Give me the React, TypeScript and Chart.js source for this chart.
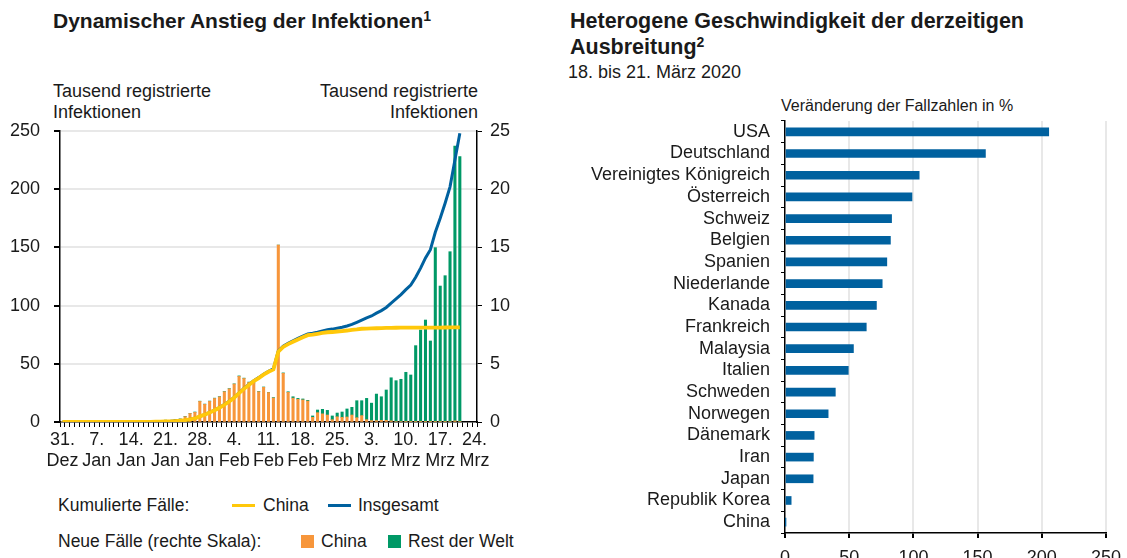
import React, { useEffect, useRef } from "react";
import { Chart, registerables } from "chart.js";
Chart.register(...registerables);

const FONT = "'Liberation Sans', Arial, sans-serif";
const TEXT = "#1a1a1a";
const YELLOW = "#FFC80A";
const BLUE = "#00619F";
const ORANGE = "#F7963B";
const GREEN = "#009966";
const GRID = "#e8e8e8";

// Days 31 Dez 2019 .. 24 Mrz 2020
const monthSpans: [string, number, number][] = [["Dez", 31, 31], ["Jan", 1, 31], ["Feb", 1, 29], ["Mrz", 1, 24]];
const dayLabels: string[] = [];
monthSpans.forEach(([m, a, b]) => { for (let d = a; d <= b; d++) dayLabels.push(d + ". " + m); });

const weekTickLabels: string[][] = [
  ["31.", "Dez"], ["7.", "Jan"], ["14.", "Jan"], ["21.", "Jan"], ["28.", "Jan"], ["4.", "Feb"], ["11.", "Feb"],
  ["18.", "Feb"], ["25.", "Feb"], ["3.", "Mrz"], ["10.", "Mrz"], ["17.", "Mrz"], ["24.", "Mrz"],
];

// New cases, thousands (right scale)
const chinaNew = [
  0.03, 0, 0, 0.02, 0, 0.02, 0, 0, 0, 0,
  0, 0, 0, 0, 0, 0, 0, 0, 0.01, 0.06,
  0.08, 0.15, 0.13, 0.2, 0.25, 0.46, 0.73, 0.83, 1.77, 1.52,
  1.77, 2.02, 2.16, 2.6, 2.85, 3.26, 3.92, 3.74, 3.4, 3.35,
  2.6, 2.98, 2.53, 2.06, 15.2, 4.18, 2.55, 2.05, 1.95, 1.9,
  1.8, 0.4, 0.8, 0.7, 0.6, 0.2, 0.45, 0.4, 0.43, 0.6,
  0.37, 0.55, 0.2, 0.12, 0.12, 0.14, 0.14, 0.1, 0.04, 0.04,
  0.02, 0.02, 0.02, 0.01, 0.02, 0.02, 0.02, 0.03, 0.02, 0.04,
  0.1, 0.05, null, null, null,
];
const restNew = [
  0, 0, 0, 0, 0, 0, 0, 0, 0, 0,
  0, 0, 0, 0, 0, 0, 0, 0, 0, 0,
  0.01, 0.01, 0.01, 0.02, 0.02, 0.02, 0.01, 0.03, 0.02, 0.02,
  0.03, 0.03, 0.02, 0.02, 0.02, 0.02, 0.04, 0.03, 0.03, 0.03,
  0.02, 0.03, 0.02, 0.04, 0, 0.04, 0.05, 0.12, 0.08, 0.08,
  0.06, 0.12, 0.23, 0.39, 0.4, 0.32, 0.32, 0.46, 0.69, 0.66,
  1.46, 1.28, 1.83, 1.5, 2.28, 2.03, 2.61, 3.7, 3.51, 3.63,
  4.25, 4.02, 6.54, 7.89, 8.74, 6.94, 14.96, 11.65, 12.55, 14.59,
  23.6, 22.75, null, null, null,
];
// Cumulative cases, thousands (left scale)
const chinaCum = [
  0.03, 0.03, 0.03, 0.04, 0.04, 0.06, 0.06, 0.06, 0.06, 0.06,
  0.06, 0.04, 0.04, 0.04, 0.04, 0.04, 0.04, 0.04, 0.06, 0.2,
  0.29, 0.44, 0.58, 0.83, 1.12, 1.56, 2.3, 3.08, 4.82, 6.3,
  8.08, 10.06, 12.24, 14.82, 17.6, 20.88, 24.73, 28.48, 31.85, 35.12,
  37.69, 40.66, 43.13, 45.2, 60.34, 64.48, 66.93, 68.98, 70.93, 72.83,
  74.6, 75.0, 75.8, 76.5, 77.1, 77.3, 77.75, 78.15, 78.6, 79.2,
  79.55, 80.1, 80.3, 80.4, 80.55, 80.7, 80.8, 80.9, 80.95, 81.0,
  81.02, 81.04, 81.06, 81.07, 81.09, 81.11, 81.13, 81.16, 81.18, 81.22,
  81.32, 81.37, null, null, null,
];
const totalCum = [
  0.03, 0.03, 0.03, 0.04, 0.04, 0.06, 0.06, 0.06, 0.06, 0.06,
  0.06, 0.04, 0.04, 0.04, 0.04, 0.04, 0.04, 0.04, 0.06, 0.2,
  0.3, 0.45, 0.6, 0.85, 1.15, 1.6, 2.35, 3.15, 4.9, 6.4,
  8.2, 10.2, 12.4, 15.0, 17.8, 21.1, 25.0, 28.8, 32.2, 35.5,
  38.1, 41.1, 43.6, 45.7, 60.9, 65.1, 67.6, 69.8, 71.8, 73.8,
  75.7, 76.2, 77.2, 78.3, 79.3, 79.8, 80.6, 81.4, 82.5, 83.8,
  85.6, 87.5, 89.5, 91.1, 93.5, 95.7, 98.4, 102.2, 105.8, 109.4,
  113.7, 117.7, 124.3, 132.2, 141.0, 148.0, 163.0, 175.0, 188.0, 202.0,
  225.0, 248.0, null, null, null,
];

// Right chart
const countries = [
  "USA", "Deutschland", "Vereinigtes Königreich", "Österreich", "Schweiz", "Belgien", "Spanien",
  "Niederlande", "Kanada", "Frankreich", "Malaysia", "Italien", "Schweden", "Norwegen", "Dänemark",
  "Iran", "Japan", "Republik Korea", "China",
];
const changePct = [205.4, 156.1, 104.5, 98.9, 83.0, 82.1, 79.3, 75.7, 71.2, 63.3, 53.3, 49.3, 39.2, 33.6, 22.7, 22.1, 21.9, 4.8, 0.3];

const font18 = { family: FONT, size: 18 };

export default function App() {
  const leftRef = useRef<HTMLCanvasElement>(null);
  const rightRef = useRef<HTMLCanvasElement>(null);

  useEffect(() => {
    const noVPad = (s: any) => { s.paddingTop = 0; s.paddingBottom = 0; };
    const left = new Chart(leftRef.current as HTMLCanvasElement, {
      type: "bar",
      data: {
        labels: dayLabels,
        datasets: [
          { type: "line", label: "China (kumuliert)", data: chinaCum, yAxisID: "y", borderColor: YELLOW, borderWidth: 3.8, pointRadius: 0, order: 0, tension: 0 } as any,
          { type: "line", label: "Insgesamt", data: totalCum, yAxisID: "y", borderColor: BLUE, borderWidth: 3, pointRadius: 0, order: 1, tension: 0 } as any,
          { type: "bar", label: "China", data: chinaNew, yAxisID: "y1", backgroundColor: ORANGE, barThickness: 2.4, order: 2 } as any,
          { type: "bar", label: "Rest der Welt", data: restNew, yAxisID: "y1", backgroundColor: GREEN, barThickness: 2.4, order: 3 } as any,
        ],
      },
      options: {
        animation: false,
        responsive: false,
        maintainAspectRatio: false,
        layout: { padding: { top: 11, left: 0, right: 0, bottom: 0 } },
        plugins: { legend: { display: false }, tooltip: { enabled: false } },
        scales: {
          x: {
            type: "category",
            stacked: true,
            offset: true,
            grid: { drawOnChartArea: false, drawTicks: true, tickLength: 5, tickColor: "#000", color: "#000", offset: true },
            border: { display: true, color: "#000", width: 1.5 },
            ticks: {
              autoSkip: false, maxRotation: 0, minRotation: 0, padding: 2, color: TEXT, font: font18,
              callback: (_v: any, i: number) => (i % 7 === 0 ? weekTickLabels[i / 7] : ""),
            },
            afterFit: (s: any) => { s.height = 68; s.paddingLeft = 0; s.paddingRight = 0; },
          },
          y: {
            position: "left",
            min: 0, max: 250,
            ticks: { stepSize: 50, padding: 14, color: TEXT, font: font18 },
            grid: { color: (c: any) => (c.tick && c.tick.value === 0 ? "rgba(0,0,0,0)" : GRID), lineWidth: 2, tickColor: "#000", tickLength: 6 },
            border: { color: "#000", width: 1.5 },
            afterFit: (s: any) => { s.width = 60; noVPad(s); },
          },
          y1: {
            position: "right",
            stacked: true,
            min: 0, max: 25,
            ticks: { stepSize: 5, padding: 8, color: TEXT, font: font18 },
            grid: { drawOnChartArea: false, tickColor: "#000", color: "#000", tickLength: 5 },
            border: { color: "#000", width: 1.5 },
            afterFit: (s: any) => { s.width = 53; noVPad(s); },
          },
        },
      } as any,
    });

    const right = new Chart(rightRef.current as HTMLCanvasElement, {
      type: "bar",
      data: {
        labels: countries,
        datasets: [{ label: "Veränderung der Fallzahlen in %", data: changePct, backgroundColor: BLUE, barThickness: 8 }],
      },
      options: {
        indexAxis: "y",
        animation: false,
        responsive: false,
        maintainAspectRatio: false,
        layout: { padding: { top: 29, right: 21, left: 0, bottom: 0 } },
        plugins: { legend: { display: false }, tooltip: { enabled: false } },
        scales: {
          x: {
            min: 0, max: 250,
            ticks: { stepSize: 50, padding: 9, color: TEXT, font: font18 },
            grid: { color: (c: any) => (c.tick && c.tick.value === 0 ? "rgba(0,0,0,0)" : GRID), lineWidth: 2, tickColor: "#000", tickLength: 5 },
            border: { color: "#000", width: 1.5 },
            afterFit: (s: any) => { s.height = 39; s.paddingLeft = 0; s.paddingRight = 0; },
          },
          y: {
            grid: { drawOnChartArea: false, tickColor: "#000", color: "#000", tickLength: 4, offset: true },
            ticks: { autoSkip: false, padding: 11, color: TEXT, font: font18 },
            border: { color: "#000", width: 1.5 },
            afterFit: (s: any) => { s.width = 225; noVPad(s); },
          },
        },
      } as any,
    });

    return () => { left.destroy(); right.destroy(); };
  }, []);

  const abs = (l: number, t: number, extra: React.CSSProperties = {}): React.CSSProperties => ({
    position: "absolute", left: l, top: t, fontFamily: FONT, fontSize: 18, lineHeight: "21px", color: TEXT, whiteSpace: "nowrap", ...extra,
  });
  const leg = (l: number, t: number): React.CSSProperties => abs(l, t, { fontSize: 17.5 });
  const swatchLine = (l: number, t: number, c: string): React.CSSProperties => ({ position: "absolute", left: l, top: t, width: 23, height: 3, background: c });
  const swatchBox = (l: number, t: number, c: string): React.CSSProperties => ({ position: "absolute", left: l, top: t, width: 13, height: 13, background: c });
  const sup: React.CSSProperties = { fontSize: 14, position: "relative", top: -7 };

  return (
    <div style={{ position: "absolute", left: 0, top: 0, width: 1127, height: 558, overflow: "hidden", background: "#fff" }}>
      <div style={abs(53, 8, { fontWeight: "bold", fontSize: 21, lineHeight: "25px" })}>
        Dynamischer Anstieg der Infektionen<span style={sup}>1</span>
      </div>
      <div style={abs(53, 81)}>Tausend registrierte<br />Infektionen</div>
      <div style={abs(298, 81, { width: 180, textAlign: "right" })}>Tausend registrierte<br />Infektionen</div>
      <canvas ref={leftRef} width={530} height={370} style={{ position: "absolute", left: 0, top: 120, width: 530, height: 370 }} />

      <div style={leg(58, 495)}>Kumulierte Fälle:</div>
      <div style={swatchLine(232, 504, YELLOW)} />
      <div style={leg(263, 495)}>China</div>
      <div style={swatchLine(328, 504, BLUE)} />
      <div style={leg(358, 495)}>Insgesamt</div>
      <div style={leg(58, 531)}>Neue Fälle (rechte Skala):</div>
      <div style={swatchBox(301, 535, ORANGE)} />
      <div style={leg(321, 531)}>China</div>
      <div style={swatchBox(388, 535, GREEN)} />
      <div style={leg(408, 531)}>Rest der Welt</div>

      <div style={abs(570, 8, { fontWeight: "bold", fontSize: 21.5, lineHeight: "26px" })}>
        Heterogene Geschwindigkeit der derzeitigen<br />Ausbreitung<span style={sup}>2</span>
      </div>
      <div style={abs(568, 62)}>18. bis 21. März 2020</div>
      <div style={abs(781, 95, { fontSize: 16 })}>Veränderung der Fallzahlen in %</div>
      <canvas ref={rightRef} width={567} height={480} style={{ position: "absolute", left: 560, top: 92, width: 567, height: 480 }} />
    </div>
  );
}
